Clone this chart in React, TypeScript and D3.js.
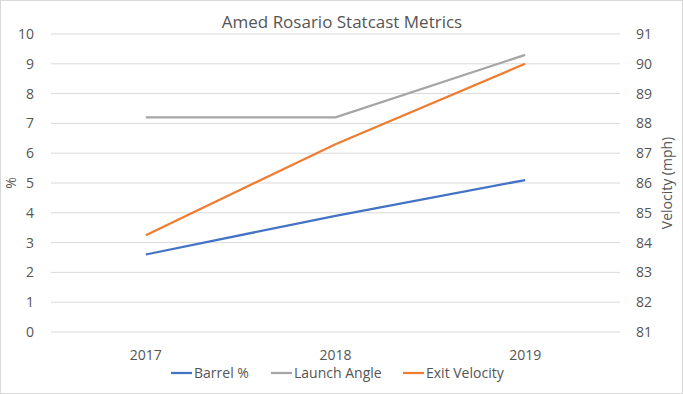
import { useEffect, useRef } from "react";
import * as d3 from "d3";

const years = ["2017", "2018", "2019"];
const barrelPct = [2.6, 3.9, 5.1];
const launchAngle = [7.2, 7.2, 9.3];
const exitVelocity = [84.25, 87.3, 90.0];
const leftTicks = [0, 1, 2, 3, 4, 5, 6, 7, 8, 9, 10];
const rightTicks = [81, 82, 83, 84, 85, 86, 87, 88, 89, 90, 91];

const seriesNames = ["Barrel %", "Launch Angle", "Exit Velocity"];
const seriesColors = ["#4472c4", "#a5a5a5", "#ed7d31"];

export default function App() {
  const svgRef = useRef<SVGSVGElement>(null);

  useEffect(() => {
    if (!svgRef.current) return;
    const width = 683;
    const height = 394;
    const margin = { top: 34, right: 63, bottom: 62, left: 51 };
    const innerWidth = width - margin.left - margin.right;
    const innerHeight = height - margin.top - margin.bottom;
    const font = "'Open Sans', 'Liberation Sans', sans-serif";
    const textColor = "#555555";

    d3.select(svgRef.current).selectAll("*").remove();
    const svg = d3.select(svgRef.current)
      .attr("width", width)
      .attr("height", height)
      .style("font-family", font);

    svg.append("rect")
      .attr("x", 0.5).attr("y", 0.5)
      .attr("width", width - 1).attr("height", height - 1)
      .attr("fill", "#fff")
      .attr("stroke", "#d9d9d9");

    const g = svg.append("g")
      .attr("transform", `translate(${margin.left},${margin.top})`);

    const x = d3.scaleBand().domain(years).range([0, innerWidth]);
    const yLeft = d3.scaleLinear().domain([0, 10]).range([innerHeight, 0]);
    const yRight = d3.scaleLinear().domain([81, 91]).range([innerHeight, 0]);

    // gridlines
    g.selectAll("line.grid")
      .data(leftTicks)
      .join("line")
      .attr("class", "grid")
      .attr("x1", 0).attr("x2", innerWidth)
      .attr("y1", d => yLeft(d)).attr("y2", d => yLeft(d))
      .attr("stroke", "#d9d9d9")
      .attr("stroke-width", 1);

    // left ticks
    g.selectAll("text.lt")
      .data(leftTicks)
      .join("text")
      .attr("class", "lt")
      .attr("x", -17)
      .attr("y", d => yLeft(d))
      .attr("dy", "0.35em")
      .attr("text-anchor", "end")
      .attr("font-size", 14)
      .attr("fill", textColor)
      .text(d => d);

    // right ticks
    g.selectAll("text.rt")
      .data(rightTicks)
      .join("text")
      .attr("class", "rt")
      .attr("x", innerWidth + 16)
      .attr("y", d => yRight(d))
      .attr("dy", "0.35em")
      .attr("text-anchor", "start")
      .attr("font-size", 14)
      .attr("fill", textColor)
      .text(d => d);

    // x labels
    g.selectAll("text.xl")
      .data(years)
      .join("text")
      .attr("class", "xl")
      .attr("x", d => (x(d) ?? 0) + x.bandwidth() / 2)
      .attr("y", innerHeight + 28)
      .attr("text-anchor", "middle")
      .attr("font-size", 14)
      .attr("fill", textColor)
      .text(d => d);

    // axis titles
    svg.append("text")
      .attr("transform", `translate(16,183) rotate(-90)`)
      .attr("text-anchor", "middle")
      .attr("font-size", 14)
      .attr("fill", textColor)
      .text("%");

    svg.append("text")
      .attr("transform", `translate(672,183) rotate(-90)`)
      .attr("text-anchor", "middle")
      .attr("font-size", 14)
      .attr("fill", textColor)
      .text("Velocity (mph)");

    svg.append("text")
      .attr("x", 342)
      .attr("y", 28)
      .attr("text-anchor", "middle")
      .attr("font-size", 17)
      .attr("fill", textColor)
      .text("Amed Rosario Statcast Metrics");

    const cx = (d: string) => (x(d) ?? 0) + x.bandwidth() / 2;

    const lineLeft = d3.line<number>()
      .x((_, i) => cx(years[i]))
      .y(d => yLeft(d));
    const lineRight = d3.line<number>()
      .x((_, i) => cx(years[i]))
      .y(d => yRight(d));

    g.append("path")
      .attr("d", lineLeft(barrelPct))
      .attr("fill", "none")
      .attr("stroke", seriesColors[0])
      .attr("stroke-width", 2.25);

    g.append("path")
      .attr("d", lineLeft(launchAngle))
      .attr("fill", "none")
      .attr("stroke", seriesColors[1])
      .attr("stroke-width", 2.25);

    g.append("path")
      .attr("d", lineRight(exitVelocity))
      .attr("fill", "none")
      .attr("stroke", seriesColors[2])
      .attr("stroke-width", 2.25);

    // legend
    const legendX = [171, 271, 403];
    const legend = svg.append("g").attr("transform", "translate(0,373)");
    seriesNames.forEach((name, i) => {
      legend.append("line")
        .attr("x1", legendX[i]).attr("x2", legendX[i] + 21)
        .attr("y1", 0).attr("y2", 0)
        .attr("stroke", seriesColors[i])
        .attr("stroke-width", 2.25);
      legend.append("text")
        .attr("x", legendX[i] + 23)
        .attr("y", 0)
        .attr("dy", "0.35em")
        .attr("font-size", 14)
        .attr("fill", textColor)
        .text(name);
    });
  }, []);

  return <svg ref={svgRef} style={{ position: "absolute", left: 0, top: 0 }} />;
}
